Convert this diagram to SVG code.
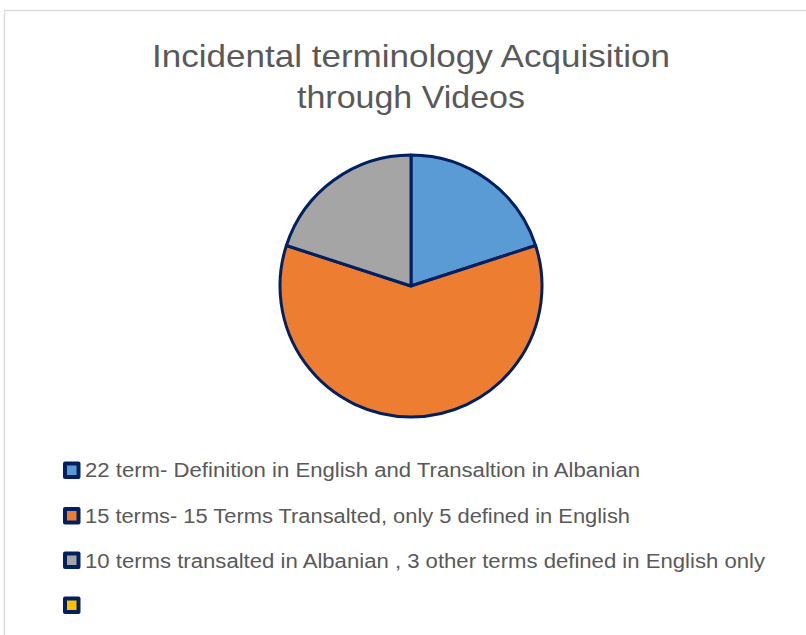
<svg xmlns="http://www.w3.org/2000/svg" width="806" height="635" viewBox="0 0 806 635">
<style>
.t{font-family:"Liberation Sans",Arial,sans-serif;fill:#595959}
.title{font-size:32px;text-anchor:middle}
.leg{font-size:20px}
.sl{stroke:#002060;stroke-width:3;stroke-linejoin:round}
.key{fill:#002060}
</style>
<rect width="806" height="635" fill="#ffffff"/>
<rect x="4.5" y="10.5" width="830" height="650" fill="#ffffff" stroke="#d9d9d9" stroke-width="1.4"/>
<g id="title">
<text class="t title" x="411" y="67" textLength="518" lengthAdjust="spacingAndGlyphs">Incidental terminology Acquisition</text>
<text class="t title" x="411" y="108" textLength="228" lengthAdjust="spacingAndGlyphs">through Videos</text>
</g>
<g id="pie">
<path id="slice-blue" class="sl" fill="#5B9BD5" d="M411,286 L411,155 A131,131 0 0 1 535.6,245.5 Z"/>
<path id="slice-orange" class="sl" fill="#ED7D31" d="M411,286 L535.6,245.5 A131,131 0 1 1 286.4,245.5 Z"/>
<path id="slice-gray" class="sl" fill="#A5A5A5" d="M411,286 L286.4,245.5 A131,131 0 0 1 411,155 Z"/>
</g>
<g id="legend">
<g id="leg1">
<rect class="key" x="63" y="461.5" width="17.5" height="17.5" rx="2"/>
<rect x="67" y="465.5" width="9.5" height="9.5" fill="#5B9BD5"/>
<text class="t leg" x="85" y="477" textLength="555" lengthAdjust="spacingAndGlyphs">22 term- Definition in English and Transaltion in Albanian</text>
</g>
<g id="leg2">
<rect class="key" x="63" y="507" width="17.5" height="17.5" rx="2"/>
<rect x="67" y="511" width="9.5" height="9.5" fill="#ED7D31"/>
<text class="t leg" x="85" y="522.5" textLength="545" lengthAdjust="spacingAndGlyphs">15 terms- 15 Terms Transalted, only 5 defined in English</text>
</g>
<g id="leg3">
<rect class="key" x="63" y="551.5" width="17.5" height="17.5" rx="2"/>
<rect x="67" y="555.5" width="9.5" height="9.5" fill="#A5A5A5"/>
<text class="t leg" x="85" y="567.5" textLength="680" lengthAdjust="spacingAndGlyphs">10 terms transalted in Albanian , 3 other terms defined in English only</text>
</g>
<g id="leg4">
<rect class="key" x="63" y="596.5" width="17.5" height="17.5" rx="2"/>
<rect x="67" y="600.5" width="9.5" height="9.5" fill="#FFC000"/>
</g>
</g>
</svg>
